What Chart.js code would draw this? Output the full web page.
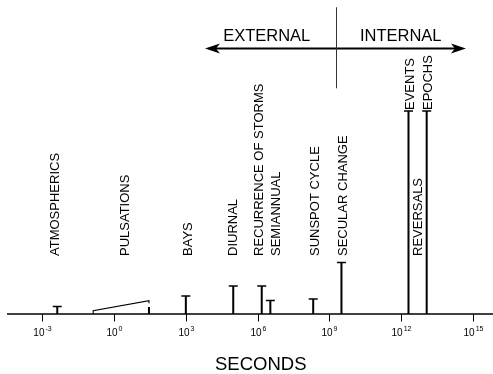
<!DOCTYPE html>
<html>
<head>
<meta charset="utf-8">
<script src="https://cdn.jsdelivr.net/npm/chart.js@4"></script>
<style>
	body { margin: 0; background: #fff; }
	#wrap { width: 493px; height: 374px; }
</style>
</head>
<body>
<div id="wrap"><canvas id="spectrum"></canvas></div>
<script>
// periods are log10(seconds), heights are relative amplitude
const markNames = ["Atmospherics", "Bays", "Diurnal", "Recurrence of storms", "Semiannual", "Sunspot cycle", "Secular change", "Events", "Epochs"];
const markLogSeconds = [-2.37, 3.0, 4.98, 6.17, 6.53, 8.32, 9.5, 12.3, 13.06];
const markHeights = [7.5, 18, 28, 28, 13.5, 15, 51.5, 203, 203];

const pulsationLogSeconds = [-0.87, 1.46];
const pulsationHeights = [3.3, 13.3];
const pulsationPeak = 7;

const labelTexts = ["ATMOSPHERICS", "PULSATIONS", "BAYS", "DIURNAL", "RECURRENCE OF STORMS", "SEMIANNUAL", "SUNSPOT CYCLE", "SECULAR CHANGE", "REVERSALS", "EVENTS", "EPOCHS"];
const labelLogSeconds = [-2.47, 0.44, 3.07, 4.95, 6.02, 6.73, 8.39, 9.55, 12.68, 12.32, 13.07];
const labelHeights = [58, 58, 58, 58, 58, 58, 58, 58, 58, 204, 204];

const tickExponents = [-3, 0, 3, 6, 9, 12, 15];
const regionNames = ["EXTERNAL", "INTERNAL"];
const boundaryLog = 9.26;
const arrowSpan = [3.8, 14.7];

const FONT = "'Liberation Sans', Arial, sans-serif";

let stems = [];
for (let i = 0; i < markLogSeconds.length; i++) {
	stems.push({ x: markLogSeconds[i], y: 0 });
	stems.push({ x: markLogSeconds[i], y: markHeights[i] });
	stems.push({ x: markLogSeconds[i], y: null });
}
stems.push({ x: pulsationLogSeconds[1], y: 0 });
stems.push({ x: pulsationLogSeconds[1], y: pulsationPeak });

let caps = markLogSeconds.map((v, i) => ({ x: v, y: markHeights[i] }));

let pulsation = [
	{ x: pulsationLogSeconds[0], y: 0 },
	{ x: pulsationLogSeconds[0], y: pulsationHeights[0] },
	{ x: pulsationLogSeconds[1], y: pulsationHeights[1] },
	{ x: pulsationLogSeconds[1], y: pulsationHeights[1] - 2.5 },
];

const annotate = {
	id: "annotate",
	afterDatasetsDraw(chart) {
		const ctx = chart.ctx;
		const xs = chart.scales.x;
		const ys = chart.scales.y;
		const area = chart.chartArea;
		const y0 = ys.getPixelForValue(0);
		ctx.save();
		ctx.strokeStyle = "#000";
		ctx.fillStyle = "#000";

		// axis line + ticks
		ctx.lineWidth = 1.3;
		ctx.beginPath();
		ctx.moveTo(area.left, y0);
		ctx.lineTo(area.right, y0);
		ctx.stroke();
		ctx.lineWidth = 1;
		for (const e of tickExponents) {
			let x = Math.round(xs.getPixelForValue(e)) + 0.5;
			ctx.beginPath();
			ctx.moveTo(x, y0);
			ctx.lineTo(x, y0 + 7.5);
			ctx.stroke();
			let base = "10";
			let sup = String(e);
			ctx.font = "10px " + FONT;
			let w1 = ctx.measureText(base).width;
			ctx.font = "7px " + FONT;
			let w2 = ctx.measureText(sup).width;
			let left = x - (w1 + w2 + 1) / 2;
			ctx.textAlign = "left";
			ctx.textBaseline = "alphabetic";
			ctx.font = "10px " + FONT;
			ctx.fillText(base, left, y0 + 22);
			ctx.font = "7px " + FONT;
			ctx.fillText(sup, left + w1 + 1, y0 + 16.5);
		}

		// axis title
		ctx.font = "18.5px " + FONT;
		ctx.textAlign = "center";
		ctx.fillText("SECONDS", xs.getPixelForValue(6.13), y0 + 56);

		// external / internal arrow
		const ay = ys.getPixelForValue(265.5);
		const ax1 = xs.getPixelForValue(arrowSpan[0]);
		const ax2 = xs.getPixelForValue(arrowSpan[1]);
		ctx.lineWidth = 2;
		ctx.beginPath();
		ctx.moveTo(ax1 + 8, ay);
		ctx.lineTo(ax2 - 8, ay);
		ctx.stroke();
		ctx.beginPath();
		ctx.moveTo(ax1, ay);
		ctx.lineTo(ax1 + 15, ay - 5);
		ctx.lineTo(ax1 + 11, ay);
		ctx.lineTo(ax1 + 15, ay + 5);
		ctx.closePath();
		ctx.fill();
		ctx.beginPath();
		ctx.moveTo(ax2, ay);
		ctx.lineTo(ax2 - 15, ay - 5);
		ctx.lineTo(ax2 - 11, ay);
		ctx.lineTo(ax2 - 15, ay + 5);
		ctx.closePath();
		ctx.fill();
		const bx = Math.round(xs.getPixelForValue(boundaryLog)) + 0.5;
		ctx.lineWidth = 1;
		ctx.strokeStyle = "#333";
		ctx.beginPath();
		ctx.moveTo(bx, ys.getPixelForValue(306.7));
		ctx.lineTo(bx, ys.getPixelForValue(225.7));
		ctx.stroke();
		ctx.font = "16.5px " + FONT;
		ctx.textAlign = "left";
		ctx.fillText(regionNames[0], xs.getPixelForValue(4.56), ys.getPixelForValue(273.3));
		ctx.fillText(regionNames[1], xs.getPixelForValue(10.27), ys.getPixelForValue(273.3));

		// vertical labels
		ctx.font = "13px " + FONT;
		for (let i = 0; i < labelTexts.length; i++) {
			ctx.save();
			ctx.translate(xs.getPixelForValue(labelLogSeconds[i]), ys.getPixelForValue(labelHeights[i]));
			ctx.rotate(-Math.PI / 2);
			ctx.textAlign = "left";
			ctx.textBaseline = "alphabetic";
			ctx.fillText(labelTexts[i], 0, 4.6);
			ctx.restore();
		}
		ctx.restore();
	},
};

new Chart("spectrum", {
	type: "scatter",
	data: {
		datasets: [
			{
				type: "line",
				label: "stems",
				data: stems,
				borderColor: "#000",
				borderWidth: 2,
				pointRadius: 0,
				spanGaps: false,
			},
			{
				label: "caps",
				data: caps,
				pointStyle: "line",
				pointRadius: 4.5,
				borderColor: "#000",
				borderWidth: 1.5,
			},
			{
				type: "line",
				label: "pulsations",
				data: pulsation,
				borderColor: "#000",
				borderWidth: 1.1,
				pointRadius: 0,
			},
		],
	},
	options: {
		responsive: true,
		maintainAspectRatio: false,
		animation: false,
		layout: { autoPadding: false, padding: { left: 7, right: 0, top: 0, bottom: 60 } },
		plugins: { legend: { display: false }, tooltip: { enabled: false } },
		scales: {
			x: { type: "linear", min: -4.47, max: 15.83, display: false },
			y: { type: "linear", min: 0, max: 314, display: false },
		},
	},
	plugins: [annotate],
});
</script>
</body>
</html>
